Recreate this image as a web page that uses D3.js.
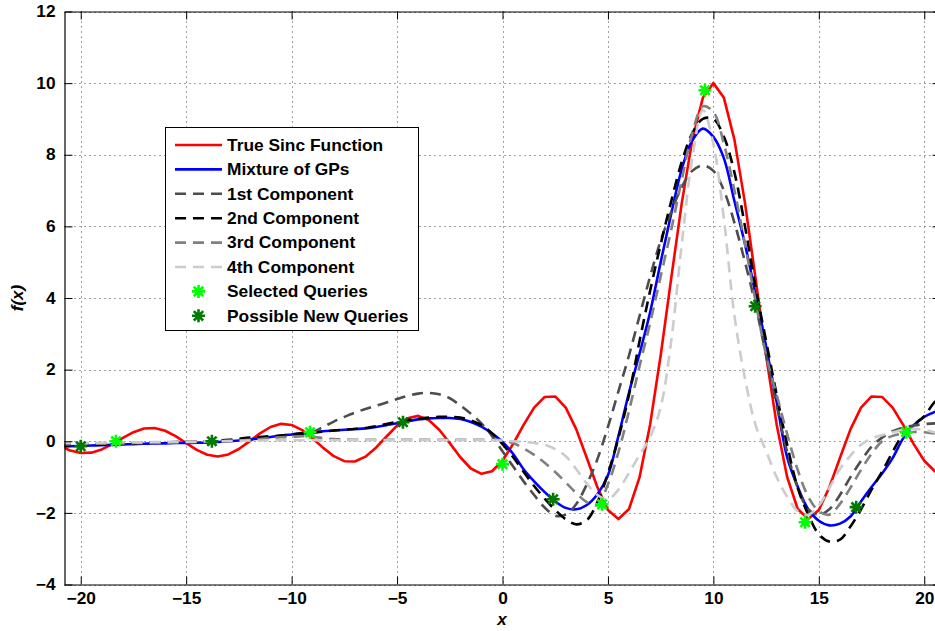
<!DOCTYPE html>
<html><head><meta charset="utf-8">
<script src="https://cdn.jsdelivr.net/npm/d3@7"></script>
<style>body{margin:0;background:#fff}svg{display:block}</style>
</head><body>
<svg id="c" width="935" height="631"></svg>
<script>
// x grid shared by all curves (step 0.5 from -21 to 21)
const xGrid = d3.range(-21, 21.001, 0.5);

const trueSinc = [
-0.130,-0.260,-0.329,-0.319,-0.229,-0.079,0.097,0.254,0.354,0.370,
0.293,0.141,-0.053,-0.241,-0.377,-0.425,-0.368,-0.217,-0.004,0.219,
0.398,0.486,0.456,0.311,0.079,-0.185,-0.417,-0.557,-0.566,-0.431,
-0.180,0.133,0.434,0.645,0.708,0.595,0.323,-0.053,-0.447,-0.761,
-0.909,-0.838,-0.544,-0.079,0.458,0.939,1.237,1.251,0.939,0.331,
-0.466,-1.283,-1.918,-2.172,-1.892,-1.002,0.470,2.394,4.546,6.650,
8.415,9.589,10.0,9.589,8.415,6.650,4.546,2.394,0.470,-1.002,
-1.892,-2.172,-1.918,-1.283,-0.466,0.331,0.939,1.251,1.237,0.939,
0.458,-0.079,-0.544,-0.838,-0.909];

const mixture = [
-0.15,-0.14,-0.13,-0.12,-0.11,-0.10,-0.09,-0.08,-0.07,-0.06,
-0.06,-0.05,-0.05,-0.04,-0.04,-0.02,0.0,0.02,0.05,0.08,
0.12,0.16,0.19,0.22,0.25,0.28,0.30,0.32,0.34,0.36,
0.40,0.45,0.50,0.56,0.61,0.64,0.65,0.65,0.62,0.54,
0.41,0.22,-0.02,-0.35,-0.78,-1.12,-1.42,-1.68,-1.86,-1.90,
-1.78,-1.48,-0.95,0.15,1.36,2.45,3.6,5.0,6.35,7.6,
8.4,8.73,8.5,7.9,6.7,5.5,4.1,2.65,1.1,-0.45,
-1.27,-1.9,-2.22,-2.35,-2.3,-2.1,-1.68,-1.28,-0.9,-0.47,
0.08,0.45,0.68,0.82,0.9];

const comp1 = [
-0.1,-0.1,-0.1,-0.09,-0.08,-0.07,-0.06,-0.05,-0.05,-0.04,
-0.04,-0.03,-0.03,-0.02,-0.01,0.0,0.02,0.04,0.06,0.09,
0.12,0.15,0.18,0.21,0.26,0.4,0.55,0.68,0.8,0.9,
0.99,1.08,1.18,1.27,1.33,1.35,1.31,1.2,1.0,0.77,
0.5,0.15,-0.28,-0.7,-1.12,-1.5,-1.85,-2.08,-2.05,-1.75,
-1.2,-0.5,0.4,1.4,2.4,3.5,4.6,5.6,6.4,7.1,
7.55,7.7,7.55,7.0,6.1,5.0,3.8,2.4,1.0,-0.3,
-1.3,-1.9,-2.05,-1.9,-1.5,-1.0,-0.55,-0.15,0.1,0.28,
0.38,0.44,0.48,0.5,0.5];

const comp2 = [
-0.12,-0.12,-0.11,-0.1,-0.09,-0.08,-0.07,-0.06,-0.05,-0.04,
-0.03,-0.02,-0.01,0.0,0.0,0.02,0.04,0.07,0.1,0.12,
0.14,0.16,0.19,0.22,0.24,0.27,0.3,0.32,0.34,0.37,
0.42,0.48,0.54,0.59,0.63,0.66,0.68,0.68,0.66,0.58,
0.45,0.22,-0.08,-0.44,-0.85,-1.25,-1.6,-1.92,-2.18,-2.32,
-2.2,-1.7,-0.9,0.1,1.3,2.8,4.2,5.5,6.7,7.8,
8.6,9.0,9.0,8.5,7.5,6.0,4.3,2.8,1.3,-0.1,
-1.3,-2.05,-2.6,-2.8,-2.75,-2.38,-1.9,-1.35,-0.85,-0.3,
0.2,0.45,0.7,1.1,1.3];

const comp3 = [
-0.08,-0.08,-0.08,-0.07,-0.07,-0.06,-0.06,-0.05,-0.05,-0.04,
-0.04,-0.03,-0.03,-0.02,-0.02,-0.01,0.0,0.02,0.04,0.06,
0.09,0.11,0.12,0.14,0.12,0.09,0.06,0.05,0.04,0.04,
0.04,0.04,0.04,0.04,0.04,0.04,0.04,0.04,0.04,0.04,
0.04,0.04,0.03,-0.05,-0.2,-0.38,-0.6,-0.86,-1.15,-1.45,
-1.7,-1.78,-1.2,-0.3,0.85,2.1,3.3,4.6,5.9,7.3,
8.6,9.35,9.2,8.3,7.0,5.5,3.9,2.4,1.3,0.2,
-0.8,-1.55,-1.95,-2.05,-1.75,-1.3,-0.8,-0.35,0.0,0.15,
0.22,0.26,0.25,0.22,0.2];

const comp4 = [
-0.04,-0.04,-0.04,-0.04,-0.04,-0.03,-0.03,-0.03,-0.03,-0.02,
-0.02,-0.02,-0.01,-0.01,0.0,0.0,0.01,0.01,0.02,0.02,
0.03,0.03,0.03,0.03,0.03,0.03,0.03,0.03,0.03,0.03,
0.03,0.03,0.03,0.03,0.03,0.03,0.03,0.03,0.03,0.03,
0.03,0.03,0.02,0.0,-0.02,-0.05,-0.1,-0.22,-0.42,-0.78,
-1.18,-1.5,-1.62,-1.35,-0.88,-0.38,0.12,0.95,2.8,5.5,
7.9,9.25,8.3,6.2,3.5,1.75,0.45,-0.27,-1.0,-1.55,
-1.95,-2.05,-1.8,-1.3,-0.78,-0.4,-0.1,0.08,0.17,0.25,
0.32,0.35,0.32,0.25,0.2];

const selectedX = [-18.33, -9.13, 0, 4.72, 9.6, 14.35, 19.14];
const selectedY = [0.0, 0.25, -0.64, -1.76, 9.8, -2.26, 0.25];
const possibleX = [-20, -13.78, -4.72, 2.4, 11.98, 16.77];
const possibleY = [-0.14, 0.0, 0.53, -1.62, 3.77, -1.84];

const xTicks = [-20, -15, -10, -5, 0, 5, 10, 15, 20];
const yTicks = [-4, -2, 0, 2, 4, 6, 8, 10, 12];

const seriesNames = ["True Sinc Function","Mixture of GPs","1st Component","2nd Component","3rd Component","4th Component"];
const markerNames = ["Selected Queries","Possible New Queries"];

// ---------- drawing ----------
const svg = d3.select("#c");
const L = 64.5, R = 940.5, T = 11.5, B = 584.5;
const x = d3.scaleLinear().domain([-20.77, 20.77]).range([L, R]);
const y = d3.scaleLinear().domain([-4, 12]).range([B, T]);
const FONT = "'Liberation Sans', Arial, Helvetica, sans-serif";
const SX = 1.08;

svg.append("defs").append("clipPath").attr("id","clip")
  .append("rect").attr("x",L).attr("y",T).attr("width",R-L).attr("height",B-T);

// grid
const grid = svg.append("g");
grid.selectAll(".gx").data(xTicks).join("line")
  .attr("x1",d=>Math.round(x(d))+0.5).attr("x2",d=>Math.round(x(d))+0.5)
  .attr("y1",T).attr("y2",B)
  .attr("stroke","#444").attr("stroke-width",1).attr("stroke-dasharray","1,4");
grid.selectAll(".gy").data(yTicks).join("line")
  .attr("y1",d=>Math.round(y(d))+0.5).attr("y2",d=>Math.round(y(d))+0.5)
  .attr("x1",L).attr("x2",R)
  .attr("stroke","#444").attr("stroke-width",1).attr("stroke-dasharray","1,4");

// curves
const styles = [
  {data: trueSinc, color:"#ff0000", dash:null, curve:d3.curveLinear},
  {data: mixture, color:"#0000ff", dash:null, curve:d3.curveCatmullRom},
  {data: comp1, color:"#4d4d4d", dash:"11,7", curve:d3.curveCatmullRom},
  {data: comp2, color:"#000000", dash:"11,7", curve:d3.curveCatmullRom},
  {data: comp3, color:"#808080", dash:"11,7", curve:d3.curveCatmullRom},
  {data: comp4, color:"#cccccc", dash:"11,7", curve:d3.curveCatmullRom}
];
const plot = svg.append("g").attr("clip-path","url(#clip)");
styles.forEach(s => {
  const line = d3.line().x((d,i)=>x(xGrid[i])).y(d=>y(d)).curve(s.curve);
  plot.append("path").attr("d", line(s.data))
    .attr("fill","none").attr("stroke", s.color).attr("stroke-width",2.6)
    .attr("stroke-dasharray", s.dash).attr("stroke-linejoin","round");
});

function star(g, cx, cy, color){
  const r = 6.5, a = r*0.72;
  g.append("path")
    .attr("d",`M${cx-r},${cy}H${cx+r}M${cx},${cy-r}V${cy+r}M${cx-a},${cy-a}L${cx+a},${cy+a}M${cx-a},${cy+a}L${cx+a},${cy-a}`)
    .attr("stroke",color).attr("stroke-width",2.6).attr("fill","none");
}
selectedX.forEach((v,i)=>star(plot, x(v), y(selectedY[i]), "#00ff00"));
possibleX.forEach((v,i)=>star(plot, x(v), y(possibleY[i]), "#007a00"));

// axes
const ax = svg.append("g").attr("font-family",FONT);
const gB = ax.append("g").attr("transform",`translate(0,${B})`)
  .call(d3.axisBottom(x).tickValues(xTicks).tickSize(-8).tickPadding(8).tickSizeOuter(0));
const gT = ax.append("g").attr("transform",`translate(0,${T})`)
  .call(d3.axisTop(x).tickValues(xTicks).tickSize(-8).tickFormat("").tickSizeOuter(0));
const gL = ax.append("g").attr("transform",`translate(${L},0)`)
  .call(d3.axisLeft(y).tickValues(yTicks).tickSize(-8).tickPadding(9).tickSizeOuter(0));
const gR = ax.append("g").attr("transform",`translate(${R},0)`)
  .call(d3.axisRight(y).tickValues(yTicks).tickSize(-8).tickFormat("").tickSizeOuter(0));
[gB,gT,gL,gR].forEach(g=>{
  g.selectAll("path.domain").attr("stroke","#000").attr("stroke-width",1.2);
  g.selectAll(".tick line").attr("stroke","#000").attr("stroke-width",1);
  g.selectAll("text").attr("font-size",16).attr("font-weight","bold").attr("fill","#000")
   .attr("font-family",FONT).attr("transform",`scale(${SX},1)`);
});
gL.selectAll("text").attr("x",-9/SX);

// axis labels
svg.append("text").attr("x",502).attr("y",625).attr("text-anchor","middle")
  .attr("font-family",FONT).attr("font-size",17).attr("font-weight","bold").attr("font-style","italic")
  .text("x");
svg.append("text").attr("transform","translate(23,298) rotate(-90)").attr("text-anchor","middle")
  .attr("font-family",FONT).attr("font-size",17).attr("font-weight","bold").attr("font-style","italic")
  .text("f(x)");

// legend
const lg = svg.append("g").attr("font-family",FONT);
lg.append("rect").attr("x",165.5).attr("y",127.5).attr("width",253).attr("height",203)
  .attr("fill","#fff").attr("stroke","#000").attr("stroke-width",1);
const rowY = i => 145 + i*24.4;
function legendText(i, label){
  lg.append("text").attr("transform",`translate(227,${rowY(i)}) scale(1.085,1)`)
    .attr("dy","0.36em").attr("font-size",16).attr("font-weight","bold").text(label);
}
styles.forEach((s,i)=>{
  lg.append("line").attr("x1",175).attr("x2",222).attr("y1",rowY(i)).attr("y2",rowY(i))
    .attr("stroke",s.color).attr("stroke-width",2.6).attr("stroke-dasharray",s.dash);
  legendText(i, seriesNames[i]);
});
markerNames.forEach((n,j)=>{
  const i = 6+j;
  star(lg, 198.5, rowY(i), j===0 ? "#00ff00" : "#007a00");
  legendText(i, n);
});
</script>
</body></html>
